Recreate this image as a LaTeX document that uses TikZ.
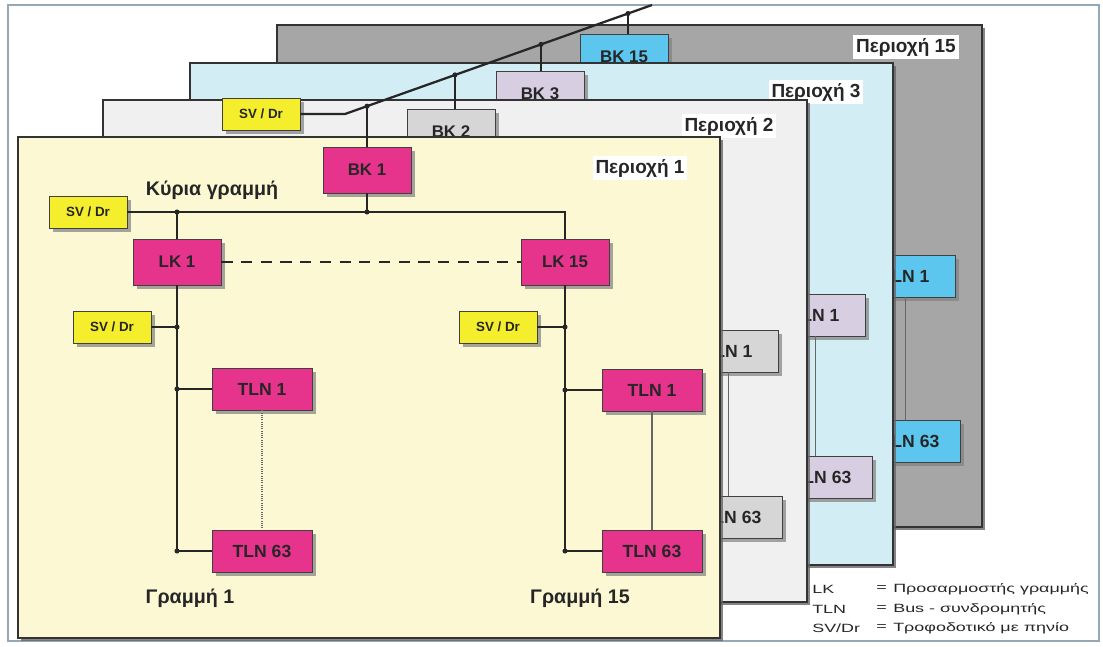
\documentclass[tikz,border=0pt]{standalone}
\usepackage{fontspec}
\setmainfont{Liberation Sans}
\newfontfamily\legendfont[FakeStretch=1.5]{Liberation Sans}
\usetikzlibrary{shadows}
\definecolor{areaone}{RGB}{252,248,212}
\definecolor{areatwo}{RGB}{240,240,240}
\definecolor{areathree}{RGB}{211,237,244}
\definecolor{areafifteen}{RGB}{166,166,166}
\definecolor{couplerpink}{RGB}{230,52,140}
\definecolor{supplyyellow}{RGB}{244,238,44}
\definecolor{greybox}{RGB}{214,214,214}
\definecolor{lilacbox}{RGB}{216,206,226}
\definecolor{skybox}{RGB}{92,198,238}
\definecolor{framegrey}{RGB}{150,168,182}

\tikzset{
  panel/.style={draw=black!80, line width=1.2pt,
    drop shadow={shadow xshift=2pt, shadow yshift=-2pt, fill=black!60, opacity=0.8}},
  arealabel/.style={fill=white, inner sep=2pt, font=\bfseries\fontsize{13.5}{15}\selectfont, text=black!85},
  devbox/.style={draw=black!75, line width=0.6pt, inner sep=0pt, text=black!85,
    drop shadow={shadow xshift=3pt, shadow yshift=-3pt, fill=black!50, opacity=0.7}},
  coupler/.style={devbox, fill=couplerpink, minimum width=2.2cm, minimum height=1.15cm,
    font=\bfseries\fontsize{12}{14}\selectfont},
  tlnbox/.style={devbox, minimum width=2.5cm, minimum height=1.05cm,
    font=\bfseries\fontsize{12.5}{14}\selectfont},
  supplybox/.style={devbox, fill=supplyyellow, minimum width=1.95cm, minimum height=0.8cm,
    font=\bfseries\fontsize{9.5}{11}\selectfont},
  busline/.style={black!85, line width=1.6pt},
  chainline/.style={black!60, line width=0.6pt},
  linelabel/.style={font=\bfseries\fontsize{14}{16}\selectfont, text=black!85},
  legendtext/.style={anchor=west, inner sep=0pt, font=\legendfont\fontsize{8.5}{10}\selectfont, text=black!85}
}

\begin{document}
\begin{tikzpicture}[x=0.025cm, y=-0.025cm]
  \useasboundingbox (0,0) rectangle (1103,646);
  \draw[framegrey, line width=1.2pt] (8,5) rectangle (1099,641);

  % ── AREA 15 (back) ─────────────────────────────────────────────────────────
  \path[panel, fill=areafifteen] (277,25) rectangle (982,527);
  \node[arealabel] (lblfifteen) at (906,47) {Περιοχή 15};
  \node[coupler, fill=skybox, minimum width=2.2cm] (bkfifteen) at (624,57) {BK 15};
  \node[tlnbox, fill=skybox] (tlnonec) at (905,276) {TLN 1};
  \node[tlnbox, fill=skybox] (tlnlastc) at (910,441) {TLN 63};
  \draw[chainline] (tlnonec.south) -- (tlnonec.south |- tlnlastc.north);

  % ── AREA 3 ─────────────────────────────────────────────────────────────────
  \path[panel, fill=areathree] (190,63) rectangle (893,565);
  \node[arealabel] (lblthree) at (816,92) {Περιοχή 3};
  \node[coupler, fill=lilacbox] (bkthree) at (540,94) {BK 3};
  \node[tlnbox, fill=lilacbox] (tlnoneb) at (815,315) {TLN 1};
  \node[tlnbox, fill=lilacbox] (tlnlastb) at (822,477) {TLN 63};
  \draw[chainline] (tlnoneb.south) -- (tlnoneb.south |- tlnlastb.north);

  % ── AREA 2 ─────────────────────────────────────────────────────────────────
  \path[panel, fill=areatwo] (103,100) rectangle (807,602);
  \node[arealabel] (lbltwo) at (729,126) {Περιοχή 2};
  \node[coupler, fill=greybox] (bktwo) at (451,132) {BK 2};
  \node[tlnbox, fill=greybox] (tlnonea) at (728,351) {TLN 1};
  \node[tlnbox, fill=greybox] (tlnlasta) at (732,517) {TLN 63};
  \draw[chainline] (tlnonea.south) -- (tlnonea.south |- tlnlasta.north);

  % ── AREA 1 (front) ─────────────────────────────────────────────────────────
  \path[panel, fill=areaone] (18,137) rectangle (720,638);
  \node[arealabel] (lblone) at (640,168) {Περιοχή 1};

  % backbone coupler + main line
  \node[coupler] (bkone) at (367,170) {BK 1};
  \node[supplybox] (svmain) at (88,212) {SV / Dr};
  \node[linelabel] (mainlbl) at (212,190) {Κύρια γραμμή};
  \node[coupler] (lkone) at (177,262) {LK 1};
  \node[coupler] (lkfifteen) at (565,262) {LK 15};

  \draw[busline] (svmain.east) -- (lkfifteen.north |- svmain.east) -- (lkfifteen.north);
  \draw[busline] (bkone.south) -- (bkone.south |- svmain.east);
  \draw[busline] (lkone.north |- svmain.east) -- (lkone.north);
  \fill[black!85] (bkone.south |- svmain.east) circle (1.8pt);
  \fill[black!85] (lkone.north |- svmain.east) circle (1.8pt);
  \draw[busline, dash pattern=on 8pt off 6pt] (lkone.east) -- (lkfifteen.west);

  % line 1
  \node[supplybox] (svlineone) at (112,327) {SV / Dr};
  \node[tlnbox, fill=couplerpink] (tlnonel) at (262,389) {TLN 1};
  \node[tlnbox, fill=couplerpink] (tlnlastl) at (262,551) {TLN 63};
  \draw[busline] (lkone.south) -- (lkone.south |- tlnlastl.west) -- (tlnlastl.west);
  \draw[busline] (svlineone.east) -- (svlineone.east -| lkone.south);
  \draw[busline] (tlnonel.west -| lkone.south) -- (tlnonel.west);
  \fill[black!85] (svlineone.east -| lkone.south) circle (1.8pt);
  \fill[black!85] (tlnonel.west -| lkone.south) circle (1.8pt);
  \fill[black!85] (lkone.south |- tlnlastl.west) circle (1.8pt);
  \draw[chainline, densely dotted, line width=1pt] (tlnonel.south) -- (tlnlastl.north);
  \node[linelabel] (lineonelbl) at (190,598) {Γραμμή 1};

  % line 15
  \node[supplybox] (svlinefifteen) at (498,327) {SV / Dr};
  \node[tlnbox, fill=couplerpink] (tlnoner) at (652,390) {TLN 1};
  \node[tlnbox, fill=couplerpink] (tlnlastr) at (652,551) {TLN 63};
  \draw[busline] (lkfifteen.south) -- (lkfifteen.south |- tlnlastr.west) -- (tlnlastr.west);
  \draw[busline] (svlinefifteen.east) -- (svlinefifteen.east -| lkfifteen.south);
  \draw[busline] (tlnoner.west -| lkfifteen.south) -- (tlnoner.west);
  \fill[black!85] (svlinefifteen.east -| lkfifteen.south) circle (1.8pt);
  \fill[black!85] (tlnoner.west -| lkfifteen.south) circle (1.8pt);
  \fill[black!85] (lkfifteen.south |- tlnlastr.west) circle (1.8pt);
  \draw[chainline, line width=1pt] (tlnoner.south) -- (tlnlastr.north);
  \node[linelabel] (linefifteenlbl) at (580,598) {Γραμμή 15};

  % ── AREA BACKBONE (on top) ─────────────────────────────────────────────────
  \node[supplybox] (svtop) at (261,114) {SV / Dr};
  \coordinate (busbend) at (345,114);
  \coordinate (busend) at (652,5);
  \coordinate (jbkone) at (367,106.2);
  \coordinate (jbktwo) at (455,74.9);
  \coordinate (jbkthree) at (541,44.4);
  \coordinate (jbkfifteen) at (628,13.5);
  \draw[busline] (svtop.east) -- (busbend) -- (busend);
  \draw[busline] (jbkone) -- (bkone.north);
  \draw[busline] (jbktwo) -- (jbktwo |- bktwo.north);
  \draw[busline] (jbkthree) -- (jbkthree |- bkthree.north);
  \draw[busline] (jbkfifteen) -- (jbkfifteen |- bkfifteen.north);
  \foreach \j in {jbkone,jbktwo,jbkthree,jbkfifteen}
    \fill[black!85] (\j) circle (1.8pt);

  % ── LEGEND ─────────────────────────────────────────────────────────────────
  \node[legendtext] (keylk) at (812,589) {LK};
  \node[legendtext] (keytln) at (812,609) {TLN};
  \node[legendtext] (keysv) at (812,628) {SV/Dr};
  \node[legendtext] (eqlk) at (876,589) {=};
  \node[legendtext] (eqtln) at (876,609) {=};
  \node[legendtext] (eqsv) at (876,628) {=};
  \node[legendtext] (txtlk) at (893,589) {Προσαρμοστής γραμμής};
  \node[legendtext] (txttln) at (893,609) {Bus - συνδρομητής};
  \node[legendtext] (txtsv) at (893,628) {Τροφοδοτικό με πηνίο};
\end{tikzpicture}
\end{document}
